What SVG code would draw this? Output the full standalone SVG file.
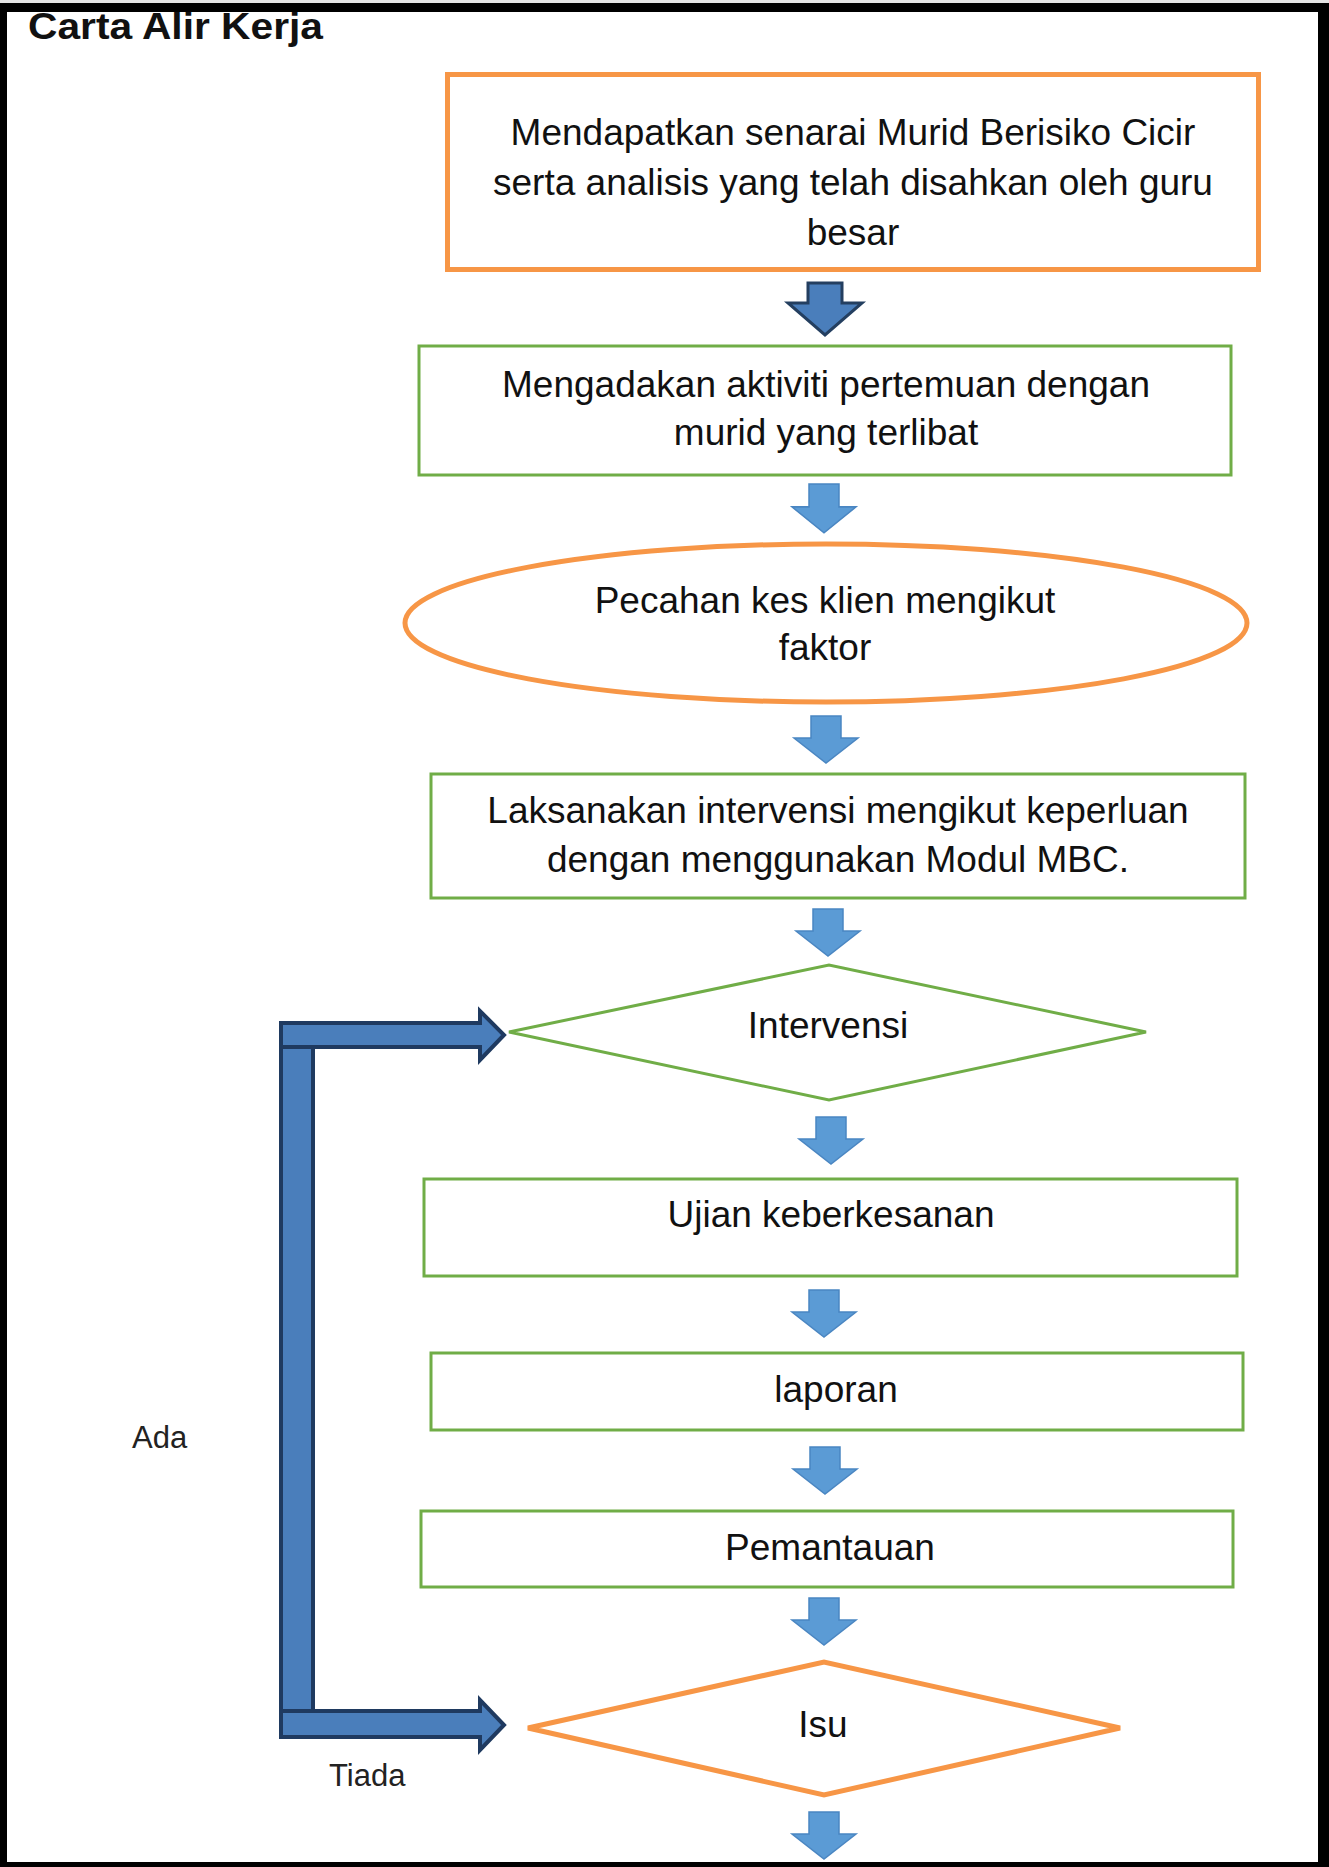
<svg xmlns="http://www.w3.org/2000/svg" xmlns:xlink="http://www.w3.org/1999/xlink" width="1329" height="1867" viewBox="0 0 1329 1867">
<style>
.t{font-family:"Liberation Sans",Arial,sans-serif;font-size:37px;fill:#111;text-anchor:middle}
.lbl{font-family:"Liberation Sans",Arial,sans-serif;font-size:31px;fill:#222}
.g{fill:#fff;stroke:#70AD47;stroke-width:3}
.o{fill:#fff;stroke:#F79646;stroke-width:5}
.arr{fill:#5B9BD5;stroke:#4A86C2;stroke-width:1.5}
.bar{fill:#4A7EBB;stroke:#1F3A60;stroke-width:4;stroke-linejoin:miter}
</style>
<defs>
<path id="dn" d="M-15,0 H15 V22 H32 L0,47 L-32,22 H-15 Z"/>
</defs>
<rect x="0" y="0" width="1329" height="1867" fill="#000"/>
<rect x="0" y="0" width="1329" height="3" fill="#e4e4e4"/>
<rect x="7" y="12" width="1311" height="1850" fill="#fff"/>
<text x="28" y="39" font-family="Liberation Sans, Arial, sans-serif" font-weight="bold" font-size="36" fill="#111" textLength="295" lengthAdjust="spacingAndGlyphs">Carta Alir Kerja</text>

<g id="connectors">
<path class="arr" d="M-17,0 H17 V20 H37 L0,52 L-37,20 H-17 Z" transform="translate(825,283)" style="fill:#4A7EBB;stroke:#243F60;stroke-width:3"/>
<use href="#dn" class="arr" transform="translate(824,484) scale(1,1.04)"/>
<use href="#dn" class="arr" transform="translate(826,716)"/>
<use href="#dn" class="arr" transform="translate(828,909)"/>
<use href="#dn" class="arr" transform="translate(831,1117)"/>
<use href="#dn" class="arr" transform="translate(824,1290)"/>
<use href="#dn" class="arr" transform="translate(825,1447)"/>
<use href="#dn" class="arr" transform="translate(824,1598)"/>
<use href="#dn" class="arr" transform="translate(824,1812)"/>
<rect class="bar" x="281" y="1035" width="32" height="690"/>
<path class="bar" d="M281,1023 H480 V1011 L504,1035 L480,1060 V1047 H281 Z"/>
<path class="bar" d="M281,1711 H480 V1700 L504,1725 L480,1750 V1737 H281 Z"/>
<text class="lbl" x="132" y="1448">Ada</text>
<text class="lbl" x="329" y="1786">Tiada</text>
</g>

<g id="n1">
<rect class="o" x="447.5" y="74.5" width="811" height="195"/>
<text class="t" x="853" y="145">Mendapatkan senarai Murid Berisiko Cicir</text>
<text class="t" x="853" y="195">serta analisis yang telah disahkan oleh guru</text>
<text class="t" x="853" y="245">besar</text>
</g>
<g id="n2">
<rect class="g" x="419" y="346" width="812" height="129"/>
<text class="t" x="826" y="397">Mengadakan aktiviti pertemuan dengan</text>
<text class="t" x="826" y="445">murid yang terlibat</text>
</g>
<g id="n3">
<ellipse class="o" cx="826" cy="623" rx="421" ry="79"/>
<text class="t" x="825" y="613">Pecahan kes klien mengikut</text>
<text class="t" x="825" y="660">faktor</text>
</g>
<g id="n4">
<rect class="g" x="431" y="774" width="814" height="124"/>
<text class="t" x="838" y="823">Laksanakan intervensi mengikut keperluan</text>
<text class="t" x="838" y="872">dengan menggunakan Modul MBC.</text>
</g>
<g id="n5">
<polygon class="g" points="509,1032 829,965 1146,1032 829,1100"/>
<text class="t" x="828" y="1038">Intervensi</text>
</g>
<g id="n6">
<rect class="g" x="424" y="1179" width="813" height="97"/>
<text class="t" x="831" y="1227">Ujian keberkesanan</text>
</g>
<g id="n7">
<rect class="g" x="431" y="1353" width="812" height="77"/>
<text class="t" x="836" y="1402">laporan</text>
</g>
<g id="n8">
<rect class="g" x="421" y="1511" width="812" height="76"/>
<text class="t" x="830" y="1560">Pemantauan</text>
</g>
<g id="n9">
<polygon class="o" points="528,1728 824,1662 1120,1728 824,1795"/>
<text class="t" x="823" y="1737">Isu</text>
</g>
</svg>
